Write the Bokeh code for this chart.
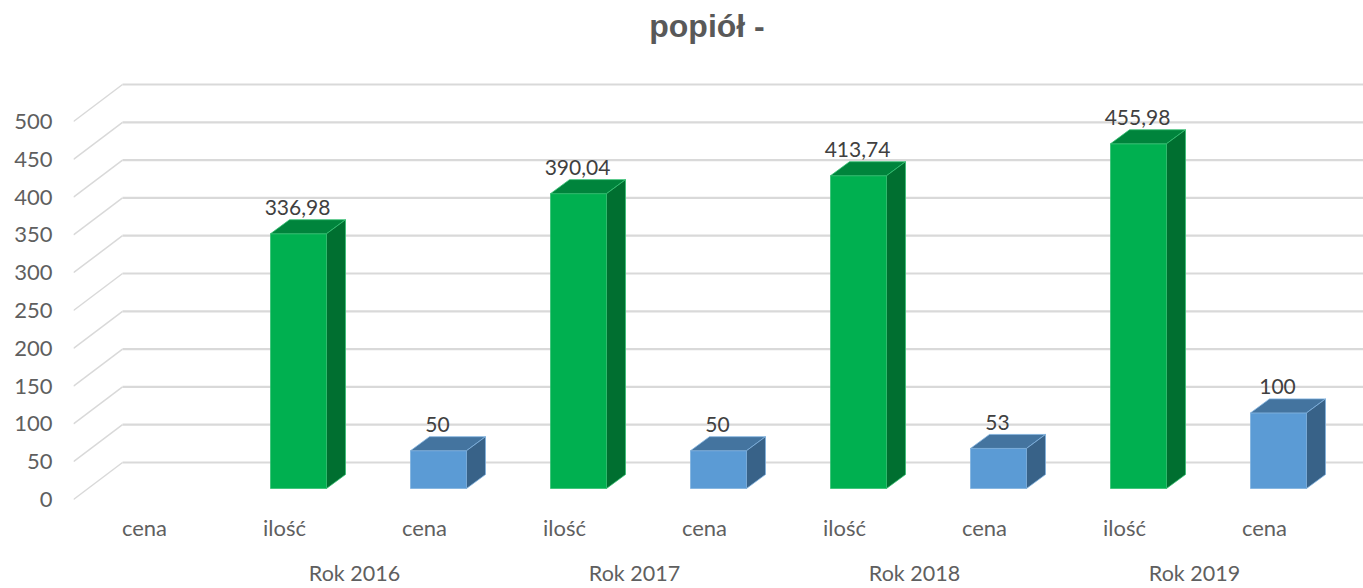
from bokeh.embed import file_html
from bokeh.resources import INLINE
from bokeh.plotting import figure
from bokeh.models import ColumnDataSource, FixedTicker, LinearAxis, Range1d
from bokeh.core.properties import value

TITLE = "popiół -"
CATEGORIES = ["cena", "ilość", "cena", "ilość", "cena", "ilość", "cena", "ilość", "cena"]
VALUES = [None, 336.98, 50, 390.04, 50, 413.74, 53, 455.98, 100]
VALUE_LABELS = ["", "336,98", "50", "390,04", "50", "413,74", "53", "455,98", "100"]
GROUPS = ["Rok 2016", "Rok 2017", "Rok 2018", "Rok 2019"]
GROUP_POS = [1.5, 3.5, 5.5, 7.5]
Y_TICKS = [0, 50, 100, 150, 200, 250, 300, 350, 400, 450, 500]

FONT = "Lato"
TEXT_GREY = "#5f5f5f"
FACE = {"ilość": ("#00b050", "#00843c", "#006f30", "#33c072"),
        "cena": ("#5b9bd5", "#44749f", "#386288", "#7fb1de")}

# Scale: canvas pixels <-> data
W, H = 1363, 588
M_LEFT, M_TOP, M_BOTTOM = 73, 0, 88
PX_PER_CAT = 140.0
PX_PER_UNIT = 0.756
X0_PX, Y0_PX = 144.0, 499.0


def dx(px):
    return px / PX_PER_CAT


def dy(px):
    return px / PX_PER_UNIT


frame_left, frame_right = M_LEFT, W
frame_top, frame_bottom = M_TOP, H - M_BOTTOM

p = figure(
    width=W, height=H, output_backend="svg", toolbar_location=None,
    x_axis_type=None, y_axis_type=None,
    x_range=Range1d(dx(frame_left - X0_PX), dx(frame_right - X0_PX)),
    y_range=Range1d(dy(Y0_PX - frame_bottom), dy(Y0_PX - frame_top)),
    min_border_left=M_LEFT, min_border_right=0, min_border_top=M_TOP, min_border_bottom=M_BOTTOM,
    outline_line_color=None, background_fill_color="white", border_fill_color="white",
)
p.grid.visible = False

p.text(x=[dx(706.5 - X0_PX)], y=[dy(Y0_PX - 25)], text=[TITLE],
       text_align="center", text_baseline="middle",
       text_font=value("Liberation Sans"), text_font_style="bold",
       text_font_size="32px", text_color="#595959")

# Walls: floor-to-back diagonals and back gridlines
x_front, x_back = dx(frame_left - X0_PX), dx(122 - X0_PX)
wall = dy(37)
p.segment(x0=[x_front] * len(Y_TICKS), y0=Y_TICKS, x1=[x_back] * len(Y_TICKS),
          y1=[t + wall for t in Y_TICKS], line_color="#d9d9d9", line_width=1.5)
p.segment(x0=[x_back] * len(Y_TICKS), y0=[t + wall for t in Y_TICKS],
          x1=[dx(frame_right - X0_PX)] * len(Y_TICKS), y1=[t + wall for t in Y_TICKS],
          line_color="#d9d9d9", line_width=2.2)

# 3D bars
base = dy(11)
left, right, depth_x, depth_y = dx(-14), dx(42), dx(19), dy(14)
xs, ys, fills, edges, lx, ly, lt = [], [], [], [], [], [], []
for i, (cat, val, lab) in enumerate(zip(CATEGORIES, VALUES, VALUE_LABELS)):
    if val is None:
        continue
    x0, x1 = i + left, i + right
    y0, y1 = base, base + val
    front, top, side, edge = FACE[cat]
    xs += [[x0, x1, x1, x0],
           [x0, x1, x1 + depth_x, x0 + depth_x],
           [x1, x1 + depth_x, x1 + depth_x, x1]]
    ys += [[y0, y0, y1, y1],
           [y1, y1, y1 + depth_y, y1 + depth_y],
           [y0, y0 + depth_y, y1 + depth_y, y1]]
    fills += [front, top, side]
    edges += [edge, edge, edge]
    lx.append((x0 + x1) / 2)
    ly.append(y1)
    lt.append(lab)

p.patches("xs", "ys", fill_color="fills", line_color="edges", line_width=0.8,
          source=ColumnDataSource(dict(xs=xs, ys=ys, fills=fills, edges=edges)))
p.text("x", "y", text="t", x_offset=-1, y_offset=-26, text_align="center", text_baseline="middle",
       text_font=value(FONT), text_font_size="21px", text_color="#404040",
       source=ColumnDataSource(dict(x=lx, y=ly, t=lt)))

# Axes
y_axis = LinearAxis(ticker=FixedTicker(ticks=Y_TICKS), axis_line_color=None,
                    major_tick_line_color=None, minor_tick_line_color=None,
                    major_tick_out=0, major_label_standoff=21, major_label_text_font=FONT,
                    major_label_text_font_size="22px", major_label_text_color=TEXT_GREY)
p.add_layout(y_axis, "left")

cat_axis = LinearAxis(ticker=FixedTicker(ticks=list(range(len(CATEGORIES)))),
                      major_label_overrides={i: c for i, c in enumerate(CATEGORIES)},
                      axis_line_color=None, major_tick_line_color=None, minor_tick_line_color=None,
                      major_tick_out=0, major_label_standoff=13, major_label_text_font=FONT,
                      major_label_text_font_size="22px", major_label_text_color=TEXT_GREY)
p.add_layout(cat_axis, "below")

group_axis = LinearAxis(ticker=FixedTicker(ticks=GROUP_POS),
                        major_label_overrides=dict(zip(GROUP_POS, GROUPS)),
                        axis_line_color=None, major_tick_line_color=None, minor_tick_line_color=None,
                        major_tick_out=0, major_label_standoff=16, major_label_text_font=FONT,
                        major_label_text_font_size="21.5px", major_label_text_color=TEXT_GREY)
p.add_layout(group_axis, "below")

open("out.html", "w").write(file_html(p, INLINE))
